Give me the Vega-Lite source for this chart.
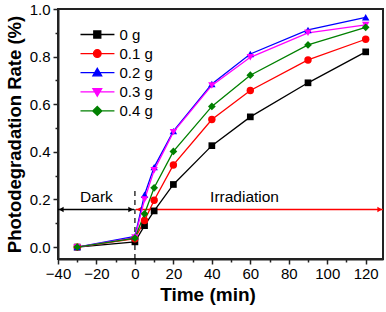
{
  "$schema": "https://vega.github.io/schema/vega-lite/v6.json",
  "autosize": {"type": "none"},
  "padding": {"left": 58, "top": 9, "right": 3, "bottom": 53},
  "width": 325,
  "height": 250,
  "config": {
    "font": "Liberation Sans",
    "view": {"stroke": "#222222", "strokeWidth": 2},
    "axis": {"domainColor": "#222222", "domainWidth": 2, "tickColor": "#222222", "tickWidth": 1.5, "grid": false, "labelColor": "#000000", "labelFontSize": 15, "labelFont": "Liberation Sans", "titleFont": "Liberation Sans", "titleColor": "#000000", "titleFontWeight": "bold"}
  },
  "datasets": {
    "series": [
      {"s": "0 g", "t": -30, "v": 0.0}, {"s": "0 g", "t": 0, "v": 0.022}, {"s": "0 g", "t": 5, "v": 0.09}, {"s": "0 g", "t": 10, "v": 0.152}, {"s": "0 g", "t": 20, "v": 0.263}, {"s": "0 g", "t": 40, "v": 0.426}, {"s": "0 g", "t": 60, "v": 0.547}, {"s": "0 g", "t": 90, "v": 0.69}, {"s": "0 g", "t": 120, "v": 0.82},
      {"s": "0.1 g", "t": -30, "v": 0.0}, {"s": "0.1 g", "t": 0, "v": 0.035}, {"s": "0.1 g", "t": 5, "v": 0.112}, {"s": "0.1 g", "t": 10, "v": 0.197}, {"s": "0.1 g", "t": 20, "v": 0.345}, {"s": "0.1 g", "t": 40, "v": 0.536}, {"s": "0.1 g", "t": 60, "v": 0.658}, {"s": "0.1 g", "t": 90, "v": 0.786}, {"s": "0.1 g", "t": 120, "v": 0.873},
      {"s": "0.2 g", "t": -30, "v": 0.0}, {"s": "0.2 g", "t": 0, "v": 0.045}, {"s": "0.2 g", "t": 5, "v": 0.22}, {"s": "0.2 g", "t": 10, "v": 0.336}, {"s": "0.2 g", "t": 20, "v": 0.487}, {"s": "0.2 g", "t": 40, "v": 0.685}, {"s": "0.2 g", "t": 60, "v": 0.811}, {"s": "0.2 g", "t": 90, "v": 0.912}, {"s": "0.2 g", "t": 120, "v": 0.965},
      {"s": "0.3 g", "t": -30, "v": 0.0}, {"s": "0.3 g", "t": 0, "v": 0.04}, {"s": "0.3 g", "t": 5, "v": 0.2}, {"s": "0.3 g", "t": 10, "v": 0.323}, {"s": "0.3 g", "t": 20, "v": 0.483}, {"s": "0.3 g", "t": 40, "v": 0.679}, {"s": "0.3 g", "t": 60, "v": 0.797}, {"s": "0.3 g", "t": 90, "v": 0.9}, {"s": "0.3 g", "t": 120, "v": 0.933},
      {"s": "0.4 g", "t": -30, "v": 0.0}, {"s": "0.4 g", "t": 0, "v": 0.038}, {"s": "0.4 g", "t": 5, "v": 0.14}, {"s": "0.4 g", "t": 10, "v": 0.249}, {"s": "0.4 g", "t": 20, "v": 0.402}, {"s": "0.4 g", "t": 40, "v": 0.591}, {"s": "0.4 g", "t": 60, "v": 0.722}, {"s": "0.4 g", "t": 90, "v": 0.849}, {"s": "0.4 g", "t": 120, "v": 0.923}
    ]
  },
  "layer": [
    {
      "data": {"values": [{"t": 0, "y0": -0.05, "y1": 0.25}]},
      "mark": {"type": "rule", "color": "#000000", "strokeWidth": 1.2, "strokeDash": [5, 4]},
      "encoding": {
        "x": {"field": "t", "type": "quantitative", "scale": {"domain": [-40, 129], "nice": false, "zero": false},
              "axis": {"orient": "bottom", "values": [-30, -10, 10, 30, 50, 70, 90, 110], "labels": false, "tickSize": 3, "domain": false, "title": null}},
        "y": {"field": "y0", "type": "quantitative", "scale": {"domain": [-0.05, 1.0], "nice": false, "zero": false},
              "axis": {"orient": "left", "values": [0.1, 0.3, 0.5, 0.7, 0.9], "labels": false, "tickSize": 3, "domain": false, "title": null}},
        "y2": {"field": "y1"}
      }
    },
    {
      "data": {"values": [{"a": -40, "b": -0.5, "y": 0.158}]},
      "mark": {"type": "rule", "strokeWidth": 1.3, "color": "#000000"},
      "encoding": {
        "x": {"field": "a", "type": "quantitative", "scale": {"domain": [-40, 129], "nice": false, "zero": false},
              "axis": {"orient": "bottom", "values": [-40, -20, 0, 20, 40, 60, 80, 100, 120], "tickSize": 5, "labelPadding": 2, "title": "Time (min)", "titleFontSize": 19, "titlePadding": 4, "titleX": 149.5, "labelFlush": false}},
        "x2": {"field": "b"},
        "y": {"field": "y", "type": "quantitative", "scale": {"domain": [-0.05, 1.0], "nice": false, "zero": false},
              "axis": {"orient": "left", "values": [0, 0.2, 0.4, 0.6, 0.8, 1.0], "format": ".1f", "tickSize": 5, "labelPadding": 3, "title": "Photodegradation Rate (%)", "titleFontSize": 18.5, "titlePadding": 5, "labelFlush": false}}
      }
    },
    {
      "data": {"values": [{"a": 0.5, "b": 129, "y": 0.158}]},
      "mark": {"type": "rule", "strokeWidth": 1.3, "color": "#ff0000"},
      "encoding": {
        "x": {"field": "a", "type": "quantitative", "axis": null},
        "x2": {"field": "b"},
        "y": {"field": "y", "type": "quantitative", "axis": null}
      }
    },
    {
      "data": {"values": [{"x": -38.3, "y": 0.158}]},
      "mark": {"type": "point", "filled": true, "size": 30, "opacity": 1, "shape": "triangle-left", "color": "#000000"},
      "encoding": {"x": {"field": "x", "type": "quantitative", "axis": null}, "y": {"field": "y", "type": "quantitative", "axis": null}}
    },
    {
      "data": {"values": [{"x": -2.2, "y": 0.158}]},
      "mark": {"type": "point", "filled": true, "size": 30, "opacity": 1, "shape": "triangle-right", "color": "#000000"},
      "encoding": {"x": {"field": "x", "type": "quantitative", "axis": null}, "y": {"field": "y", "type": "quantitative", "axis": null}}
    },
    {
      "data": {"values": [{"x": 2.2, "y": 0.158}]},
      "mark": {"type": "point", "filled": true, "size": 30, "opacity": 1, "shape": "triangle-left", "color": "#ff0000"},
      "encoding": {"x": {"field": "x", "type": "quantitative", "axis": null}, "y": {"field": "y", "type": "quantitative", "axis": null}}
    },
    {
      "data": {"values": [{"x": 127.3, "y": 0.158}]},
      "mark": {"type": "point", "filled": true, "size": 30, "opacity": 1, "shape": "triangle-right", "color": "#ff0000"},
      "encoding": {"x": {"field": "x", "type": "quantitative", "axis": null}, "y": {"field": "y", "type": "quantitative", "axis": null}}
    },
    {
      "data": {"values": [{"x": -20, "y": 0.209, "label": "Dark"}, {"x": 57, "y": 0.209, "label": "Irradiation"}]},
      "mark": {"type": "text", "fontSize": 15.5, "color": "#000000", "baseline": "middle", "align": "center"},
      "encoding": {
        "x": {"field": "x", "type": "quantitative", "axis": null},
        "y": {"field": "y", "type": "quantitative", "axis": null},
        "text": {"field": "label"}
      }
    },
    {
      "data": {"name": "series"},
      "mark": {"type": "line", "strokeWidth": 1.3},
      "encoding": {
        "x": {"field": "t", "type": "quantitative", "axis": null},
        "y": {"field": "v", "type": "quantitative", "axis": null},
        "color": {"field": "s", "type": "nominal", "scale": {"range": ["#000000", "#ff0000", "#0000ff", "#ff00ff", "#008000"]}, "legend": null},
        "order": {"field": "t", "type": "quantitative"}
      }
    },
    {
      "data": {"name": "series"},
      "transform": [{"filter": "datum.s === '0 g'"}],
      "mark": {"type": "point", "filled": true, "size": 45, "opacity": 1, "shape": "square", "color": "#000000"},
      "encoding": {"x": {"field": "t", "type": "quantitative", "axis": null}, "y": {"field": "v", "type": "quantitative", "axis": null}}
    },
    {
      "data": {"name": "series"},
      "transform": [{"filter": "datum.s === '0.1 g'"}],
      "mark": {"type": "point", "filled": true, "size": 55, "opacity": 1, "shape": "circle", "color": "#ff0000"},
      "encoding": {"x": {"field": "t", "type": "quantitative", "axis": null}, "y": {"field": "v", "type": "quantitative", "axis": null}}
    },
    {
      "data": {"name": "series"},
      "transform": [{"filter": "datum.s === '0.2 g'"}],
      "mark": {"type": "point", "filled": true, "size": 55, "opacity": 1, "shape": "triangle-up", "color": "#0000ff"},
      "encoding": {"x": {"field": "t", "type": "quantitative", "axis": null}, "y": {"field": "v", "type": "quantitative", "axis": null}}
    },
    {
      "data": {"name": "series"},
      "transform": [{"filter": "datum.s === '0.3 g'"}],
      "mark": {"type": "point", "filled": true, "size": 55, "opacity": 1, "shape": "triangle-down", "color": "#ff00ff"},
      "encoding": {"x": {"field": "t", "type": "quantitative", "axis": null}, "y": {"field": "v", "type": "quantitative", "axis": null}}
    },
    {
      "data": {"name": "series"},
      "transform": [{"filter": "datum.s === '0.4 g'"}],
      "mark": {"type": "point", "filled": true, "size": 60, "opacity": 1, "shape": "diamond", "color": "#008000"},
      "encoding": {"x": {"field": "t", "type": "quantitative", "axis": null}, "y": {"field": "v", "type": "quantitative", "axis": null}}
    },
    {
      "data": {"name": "series"},
      "mark": {"type": "point", "filled": true, "size": 49, "strokeWidth": 1.3, "opacity": 0},
      "encoding": {
        "x": {"field": "t", "type": "quantitative", "axis": null},
        "y": {"field": "v", "type": "quantitative", "axis": null},
        "fill": {"field": "s", "type": "nominal", "scale": {"domain": ["0 g", "0.1 g", "0.2 g", "0.3 g", "0.4 g"], "range": ["#000000", "#ff0000", "#0000ff", "#ff00ff", "#008000"]},
          "legend": {"orient": "top-left", "offset": 17.5, "title": null, "padding": 0, "symbolSize": 49, "symbolStrokeWidth": 1.3, "labelFontSize": 15, "labelColor": "#000000", "labelOffset": 28.5, "rowPadding": 3.1, "labelFont": "Liberation Sans", "symbolOpacity": 1,
            "encode": {"symbols": {"update": {"opacity": {"value": 1}, "fillOpacity": {"value": 1}, "strokeOpacity": {"value": 1}}}}}},
        "stroke": {"field": "s", "type": "nominal", "scale": {"domain": ["0 g", "0.1 g", "0.2 g", "0.3 g", "0.4 g"], "range": ["#000000", "#ff0000", "#0000ff", "#ff00ff", "#008000"]},
          "legend": {"orient": "top-left", "offset": 17.5, "title": null, "padding": 0, "symbolSize": 49, "symbolStrokeWidth": 1.3, "labelFontSize": 15, "labelColor": "#000000", "labelOffset": 28.5, "rowPadding": 3.1, "labelFont": "Liberation Sans", "symbolOpacity": 1}},
        "shape": {"field": "s", "type": "nominal", "scale": {"domain": ["0 g", "0.1 g", "0.2 g", "0.3 g", "0.4 g"], "range": ["M-0.86,0H8.84M2.94,-1H4.94V1H2.94Z", "M-0.86,0H8.84M5.04,0A1.1,1.1,0,1,1,2.84,0A1.1,1.1,0,1,1,5.04,0Z", "M-0.86,0H8.84M3.94,-1.25L5.19,0.9H2.69Z", "M-0.86,0H8.84M3.94,1.25L5.19,-0.9H2.69Z", "M-0.86,0H8.84M3.94,-1.3L5.24,0L3.94,1.3L2.64,0Z"]},
          "legend": {"orient": "top-left", "offset": 17.5, "title": null, "padding": 0, "symbolSize": 49, "symbolStrokeWidth": 1.3, "labelFontSize": 15, "labelColor": "#000000", "labelOffset": 28.5, "rowPadding": 3.1, "labelFont": "Liberation Sans", "symbolOpacity": 1}}
      }
    }
  ],
  "resolve": {"axis": {"x": "independent", "y": "independent"}}
}
